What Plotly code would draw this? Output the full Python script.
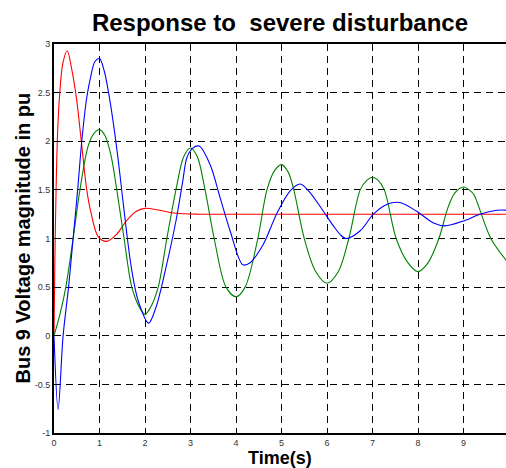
import plotly.graph_objects as go

# ---- data ----
t_red = [0, 0.02, 0.05, 0.08, 0.12, 0.19, 0.29, 0.39, 0.5, 0.6, 0.72, 0.82, 0.97, 1.15,
         1.37, 1.59, 1.81, 2.0, 2.32, 2.68, 3.2, 4.0, 5.0, 6.0, 7.0, 8.0, 9.0, 10.0]
v_red = [0, 0.8, 1.6, 2.1, 2.45, 2.79, 2.93, 2.74, 2.42, 2.0, 1.5, 1.25, 1.02, 0.97,
         1.04, 1.18, 1.28, 1.31, 1.29, 1.26, 1.25, 1.25, 1.25, 1.25, 1.25, 1.25, 1.25, 1.25]

t_blue = [0, 0.09, 0.2, 0.32, 0.42, 0.52, 0.61, 0.72, 0.8, 0.9, 1.0, 1.1, 1.2, 1.3,
          1.4, 1.5, 1.6, 1.7, 1.85, 2.08, 2.24, 2.46, 2.68, 2.83, 2.92, 3.05, 3.19,
          3.43, 3.65, 3.87, 4.15, 4.31, 4.6, 4.89, 5.19, 5.41, 5.63, 5.92, 6.14, 6.29,
          6.42, 6.73, 7.02, 7.31, 7.6, 7.97, 8.34, 8.59, 9.0, 9.36, 9.73, 10.0]
v_blue = [0, -0.76, 0.0, 0.5, 1.0, 1.5, 2.0, 2.45, 2.65, 2.82, 2.85, 2.73, 2.5, 2.2,
          1.85, 1.45, 1.05, 0.70, 0.36, 0.13, 0.29, 0.70, 1.18, 1.59, 1.83, 1.93, 1.95,
          1.76, 1.42, 1.08, 0.73, 0.75, 0.94, 1.25, 1.49, 1.56, 1.47, 1.28, 1.13, 1.04,
          1.0, 1.08, 1.25, 1.35, 1.37, 1.28, 1.16, 1.13, 1.18, 1.25, 1.29, 1.29]

t_green = [0, 0.13, 0.26, 0.42, 0.57, 0.75, 0.88, 1.0, 1.12, 1.25, 1.38, 1.54, 1.71, 1.88,
           2.0, 2.12, 2.29, 2.48, 2.68, 2.85, 3.0, 3.15, 3.32, 3.52, 3.78, 4.0, 4.2,
           4.48, 4.68, 4.85, 5.0, 5.15, 5.27, 5.5, 5.75, 6.0, 6.25, 6.48, 6.73, 6.88,
           7.0, 7.12, 7.26, 7.52, 7.78, 8.0, 8.22, 8.46, 8.66, 8.81, 9.0, 9.15, 9.23,
           9.6, 10.0]
v_green = [0, 0.22, 0.5, 1.0, 1.5, 1.95, 2.08, 2.12, 2.06, 1.86, 1.5, 1.0, 0.5, 0.29,
           0.22, 0.29, 0.5, 1.0, 1.5, 1.84, 1.93, 1.84, 1.5, 1.0, 0.5, 0.40, 0.5,
           1.0, 1.5, 1.70, 1.76, 1.68, 1.5, 1.0, 0.66, 0.54, 0.66, 1.0, 1.5, 1.6,
           1.63, 1.6, 1.5, 1.0, 0.75, 0.66, 0.75, 1.0, 1.32, 1.47, 1.53, 1.49, 1.45,
           1.0, 0.74]

x_ticks = [0, 1, 2, 3, 4, 5, 6, 7, 8, 9, 10]
x_tick_labels = ["0", "1", "2", "3", "4", "5", "6", "7", "8", "9", "10"]
y_ticks = [-1, -0.5, 0, 0.5, 1, 1.5, 2, 2.5, 3]
y_tick_labels = ["-1", "-0.5", "0", "0.5", "1", "1.5", "2", "2.5", "3"]

FONT = "Liberation Sans, Arial, sans-serif"

fig = go.Figure()
for t, v, c in [(t_red, v_red, "#ff0000"), (t_green, v_green, "#008000"), (t_blue, v_blue, "#0000ff")]:
    fig.add_trace(go.Scatter(x=t, y=v, mode="lines",
                             line=dict(color=c, width=1.1, shape="spline", smoothing=0.9),
                             showlegend=False, hoverinfo="skip"))

axis_common = dict(
    showgrid=True, gridcolor="#000000", gridwidth=1, griddash="7px,5px",
    zeroline=False, showline=True, linecolor="#000000", linewidth=1.8,
    ticks="inside", ticklen=5, tickwidth=1, tickcolor="#000000",
    tickfont=dict(family=FONT, size=9, color="#333333"),
)

fig.update_layout(
    width=506, height=468,
    margin=dict(l=54, r=0, t=44, b=35),
    paper_bgcolor="#ffffff", plot_bgcolor="#ffffff",
    title=dict(text="Response to\u00a0\u00a0severe disturbance", x=0.5, xref="paper",
               xanchor="center", y=1 - 23 / 468, yref="container", yanchor="middle",
               font=dict(family=FONT, size=24, color="#000000", weight="bold")),
    xaxis=dict(range=[0, 9.934], tickvals=x_ticks, ticktext=x_tick_labels,
               mirror="ticks", **axis_common),
    yaxis=dict(range=[-1, 3], tickvals=y_ticks, ticktext=y_tick_labels,
               mirror=False, **axis_common),
    annotations=[
        dict(text="Bus 9 Voltage magnitude in pu", textangle=-90, showarrow=False,
             xref="paper", yref="paper", x=0, y=0.5, xanchor="center", yanchor="middle",
             xshift=-32, font=dict(family=FONT, size=20, color="#000000", weight="bold")),
        dict(text="Time(s)", showarrow=False, xref="paper", yref="paper", x=0.5, y=0,
             xanchor="center", yanchor="middle", yshift=-25,
             font=dict(family=FONT, size=18, color="#000000", weight="bold")),
    ],
)

fig.write_html("out.html")
